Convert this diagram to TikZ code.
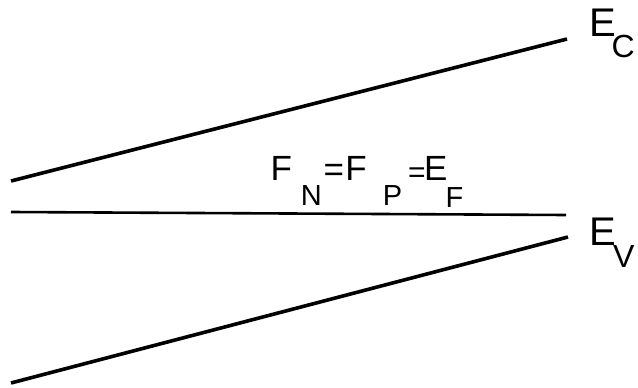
\documentclass[tikz,border=0pt]{standalone}
\usepackage{fontspec}
\setmainfont{Liberation Sans}
\newcommand{\lowsub}[3]{\raisebox{-#1}{\fontsize{#2}{#2}\selectfont #3}}
\begin{document}
\begin{tikzpicture}[x=1pt,y=-1pt,
  band/.style={line width=3.6pt},
  level/.style={line width=2.6pt},
  lab/.style={anchor=base west,inner sep=0pt}]
\useasboundingbox (0,0) rectangle (638,388);
% band edges
\coordinate (c1) at (11,181);
\coordinate (c2) at (567,39);
\coordinate (f1) at (11,212);
\coordinate (f2) at (566,215);
\coordinate (v1) at (11,383);
\coordinate (v2) at (568,237);
\draw[band] (c1) -- (c2);
\draw[level] (f1) -- (f2);
\draw[band] (v1) -- (v2);
% labels
\node[lab] (ec) at (588.8,36)
  {\fontsize{40}{40}\selectfont E\hspace{-4pt}\lowsub{21.5pt}{32}{C}};
\node[lab] (ev) at (588.8,245)
  {\fontsize{40}{40}\selectfont E\hspace{-2.5pt}\lowsub{22pt}{32}{V}};
\node[lab] (fl) at (270.5,180)
  {\fontsize{35}{35}\selectfont F\hspace{8.9pt}\lowsub{25pt}{29}{N}\hspace{1.6pt}\raisebox{-1pt}{=}\hspace{1.5pt}F\hspace{16pt}\lowsub{25pt}{29}{P}\hspace{6pt}\lowsub{2pt}{30}{=}\hspace{-1.5pt}E\hspace{-1.8pt}\lowsub{27pt}{29}{F}};
\end{tikzpicture}
\end{document}
